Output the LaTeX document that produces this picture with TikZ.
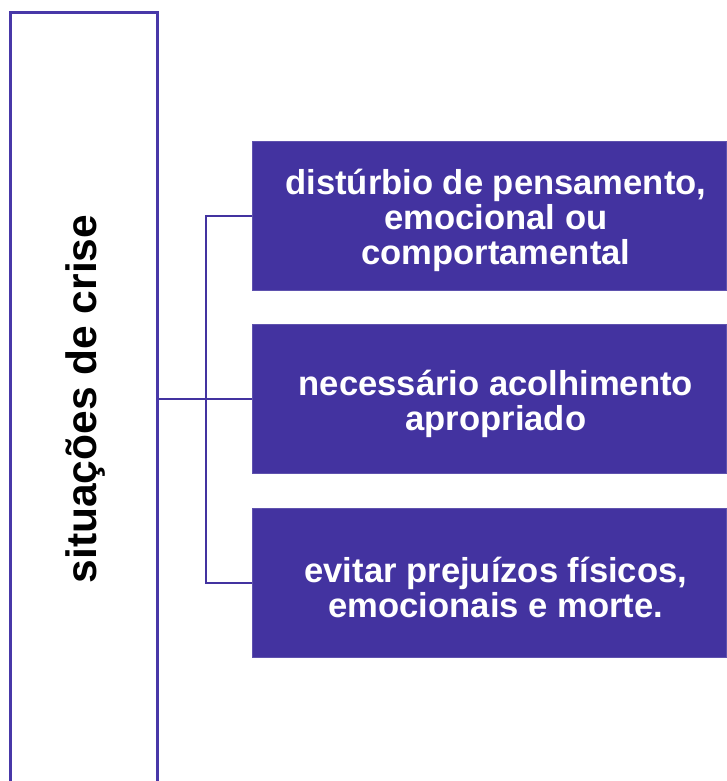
\documentclass[tikz,border=0pt]{standalone}
\usepackage{fontspec}
\setmainfont{Liberation Sans}
\definecolor{boxfill}{HTML}{4333A0}
\definecolor{boxline}{HTML}{4838A8}
\begin{document}
\begin{tikzpicture}[x=1pt,y=-1pt,
  rbox/.style={fill=boxfill,draw=boxfill!85!white,line width=0.8pt,minimum width=473.3pt,
    minimum height=149pt,inner sep=0pt},
  rtext/.style={inner sep=0pt,text=white,align=center,
    font=\fontsize{34.6}{35}\selectfont\bfseries},
  conn/.style={draw=boxfill,line width=2pt},
  lbox/.style={draw=boxline,line width=3pt,minimum width=147pt,minimum height=787pt,inner sep=0pt}]
\useasboundingbox (0,0) rectangle (726,781);
\begin{scope}
\clip (0,0) rectangle (726,781);
\node[lbox] (crisis) at (83.5,406.5) {};
\end{scope}
\node[inner sep=0pt,font=\fontsize{42.5}{44}\selectfont\bfseries] (crisislbl) at (86,399)
  {\rotatebox{90}{situações de crise}};
\node[rbox] (b1) at (489.35,215.5) {};
\node[rbox] (b2) at (489.35,399) {};
\node[rbox] (b3) at (489.35,582.7) {};
\node[rtext] (t1) at ([shift={(6.5,4.5)}]b1.center) {distúrbio de pensamento,\\emocional ou\\comportamental};
\node[rtext] (t2) at ([shift={(6.5,4.5)}]b2.center) {necessário acolhimento\\apropriado};
\node[rtext] (t3) at ([shift={(6.5,4.5)}]b3.center) {evitar prejuízos físicos,\\emocionais e morte.};
\coordinate (jn) at (205.5,399);
\draw[conn] (b1.west) -| (jn) |- (b3.west);
\draw[conn] (crisis.east |- b2.west) -- (b2.west);
\end{tikzpicture}
\end{document}
